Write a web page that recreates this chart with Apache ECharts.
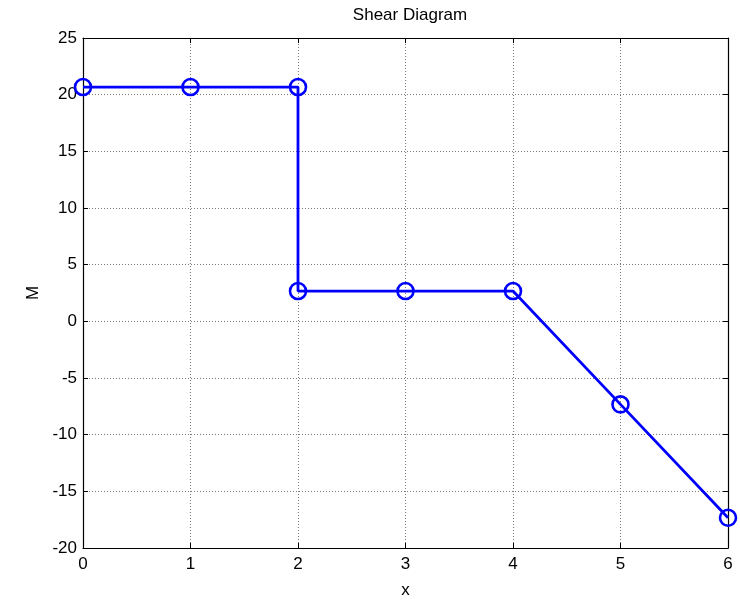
<!DOCTYPE html>
<html>
<head>
<meta charset="utf-8">
<script src="https://cdn.jsdelivr.net/npm/echarts@6/dist/echarts.min.js"></script>
<style>
  html, body { margin: 0; padding: 0; background: #ffffff; }
  #chart { width: 740px; height: 600px; }
</style>
</head>
<body>
<div id="chart"></div>
<script>
// Beam shear along its length: position x and shear value at each node
const positions = [0, 1, 2, 2, 3, 4, 5, 6];
const shearValues = [20.67, 20.67, 20.67, 2.67, 2.67, 2.67, -7.33, -17.33];

const chartTitle = 'Shear Diagram';
const xName = 'x';
const yName = 'M';

const font = 'Liberation Sans, Arial, Helvetica, sans-serif';
const textSize = 17;
const gridLine = { show: true, lineStyle: { color: '#7a7a7a', type: [1, 2], width: 1 } };
const frameLine = { show: true, onZero: false, lineStyle: { color: '#000', width: 1.2 } };
const innerTick = { show: true, inside: true, length: 5, lineStyle: { color: '#000', width: 1 } };

const chart = echarts.init(document.getElementById('chart'), null, { renderer: 'canvas' });

chart.setOption({
  animation: false,
  backgroundColor: '#ffffff',
  title: {
    text: chartTitle,
    left: 405,
    top: 2,
    textAlign: 'center',
    textStyle: { fontFamily: font, fontSize: textSize, fontWeight: 'normal', color: '#000' }
  },
  grid: { left: 83, right: 12, top: 38, bottom: 52, containLabel: false, outerBoundsMode: 'none' },
  xAxis: [
    {
      type: 'value', min: 0, max: 6, interval: 1, position: 'bottom',
      name: xName, nameLocation: 'middle', nameGap: 34,
      nameTextStyle: { fontFamily: font, fontSize: textSize, color: '#000' },
      axisLine: frameLine, axisTick: innerTick,
      axisLabel: { fontFamily: font, fontSize: textSize, color: '#000', margin: 8 },
      splitLine: gridLine
    },
    {
      type: 'value', min: 0, max: 6, interval: 1, position: 'top',
      axisLine: frameLine, axisTick: innerTick,
      axisLabel: { show: false }, splitLine: { show: false }
    }
  ],
  yAxis: [
    {
      type: 'value', min: -20, max: 25, interval: 5, position: 'left',
      name: yName, nameLocation: 'middle', nameGap: 38, nameRotate: 90,
      nameTextStyle: { fontFamily: font, fontSize: textSize, color: '#000' },
      axisLine: frameLine, axisTick: innerTick,
      axisLabel: { fontFamily: font, fontSize: textSize, color: '#000', margin: 6, padding: [4, 0, 0, 0] },
      splitLine: gridLine
    },
    {
      type: 'value', min: -20, max: 25, interval: 5, position: 'right',
      axisLine: frameLine, axisTick: innerTick,
      axisLabel: { show: false }, splitLine: { show: false }
    }
  ],
  series: [
    {
      type: 'line',
      data: positions.map((x, i) => [x, shearValues[i]]),
      symbol: 'circle',
      symbolSize: 16,
      showAllSymbol: true,
      clip: false,
      lineStyle: { color: '#0000ff', width: 2.8 },
      itemStyle: { color: 'rgba(255,255,255,0)', borderColor: '#0000ff', borderWidth: 2.6 },
      z: 5
    }
  ]
});
</script>
</body>
</html>
